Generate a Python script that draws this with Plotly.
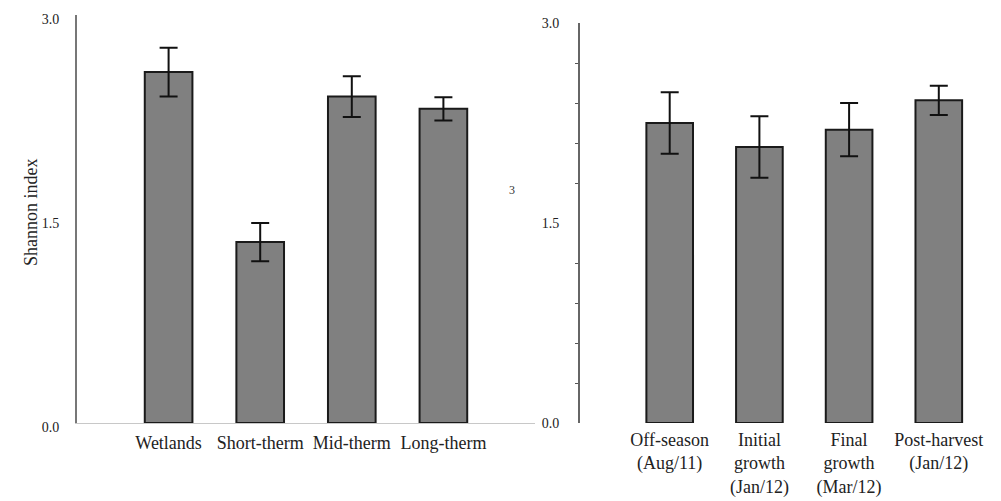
import plotly.graph_objects as go

# Left panel: habitat types
habitats = ["Wetlands", "Short-therm", "Mid-therm", "Long-therm"]
habitat_shannon = [2.58, 1.33, 2.40, 2.31]
habitat_err = [0.18, 0.14, 0.15, 0.085]

# Right panel: rice growing season
seasons = ["Off-season<br>(Aug/11)", "Initial<br>growth<br>(Jan/12)",
           "Final<br>growth<br>(Mar/12)", "Post-harvest<br>(Jan/12)"]
season_shannon = [2.25, 2.07, 2.20, 2.42]
season_err = [0.23, 0.23, 0.20, 0.11]

y_ticks = [0, 1.5, 3.0]
y_ticktext = ["0.0", "1.5", "3.0"]
minor_ticks = [0.3, 0.6, 0.9, 1.2, 1.8, 2.1, 2.4, 2.7]

FONT = "Liberation Serif, Times New Roman, serif"
BAR_FILL = "#808080"
BAR_LINE = "#1a1a1a"

W, H = 1001, 501
OFF = 8  # page body margin


def px_x(v):
    return (v - OFF) / W


def px_y(v):
    return (H - (v - OFF)) / H


fig = go.Figure()

fig.add_trace(go.Bar(
    x=habitats, y=habitat_shannon, width=0.52,
    marker=dict(color=BAR_FILL, line=dict(color=BAR_LINE, width=2)),
    error_y=dict(type="data", array=habitat_err, color="#111111", thickness=2, width=9),
    xaxis="x", yaxis="y", showlegend=False,
))

fig.add_trace(go.Bar(
    x=seasons, y=season_shannon, width=0.52,
    marker=dict(color=BAR_FILL, line=dict(color=BAR_LINE, width=2)),
    error_y=dict(type="data", array=season_err, color="#111111", thickness=2, width=9),
    xaxis="x2", yaxis="y2", showlegend=False,
))

fig.update_layout(
    width=W, height=H,
    margin=dict(l=0, r=0, t=0, b=0),
    paper_bgcolor="white", plot_bgcolor="white",
    font=dict(family=FONT, color="#222222", size=18),
    xaxis=dict(
        domain=[px_x(77), px_x(535)], range=[-1, 4], anchor="y",
        showline=True, linecolor="#c8c8c8", linewidth=1,
        showgrid=False, ticks="", tickfont=dict(size=18, family=FONT),
        ticklabelstandoff=3,
        categoryorder="array", categoryarray=habitats, automargin=False,
    ),
    yaxis=dict(
        domain=[px_y(423), px_y(15)], range=[0, 3], anchor="x",
        showline=True, linecolor="#777777", linewidth=2,
        showgrid=False, zeroline=False, ticks="",
        tickvals=y_ticks, ticktext=y_ticktext,
        tickfont=dict(size=14, family=FONT), ticklabelstandoff=13,
        ticklabelshift=4, ticklabeloverflow="allow",
        automargin=False,
    ),
    xaxis2=dict(
        domain=[px_x(580), px_x(580 + 4.7 * 89.7)], range=[-1, 3.7], anchor="y2",
        showline=False, showgrid=False, ticks="",
        tickfont=dict(size=18, family=FONT), ticklabelstandoff=4,
        categoryorder="array", categoryarray=seasons, automargin=False,
    ),
    yaxis2=dict(
        domain=[px_y(423), px_y(23)], range=[0, 3], anchor="x2",
        showline=True, linecolor="#666666", linewidth=2,
        showgrid=False, zeroline=False,
        tickvals=y_ticks, ticktext=y_ticktext, ticks="",
        minor=dict(tickvals=minor_ticks, ticks="outside", ticklen=3,
                   tickcolor="#555555", tickwidth=1),
        tickfont=dict(size=14, family=FONT), ticklabelstandoff=16,
        ticklabeloverflow="allow",
        automargin=False,
    ),
)

fig.add_annotation(
    text="Shannon index", textangle=-90, x=px_x(19), y=px_y(212),
    xref="paper", yref="paper", showarrow=False,
    font=dict(size=18, family=FONT, color="#222222"),
)

fig.add_annotation(
    text="3", x=px_x(512), y=px_y(190), xref="paper", yref="paper",
    showarrow=False, font=dict(size=12, family=FONT, color="#333333"),
)

fig.write_html("out.html")
